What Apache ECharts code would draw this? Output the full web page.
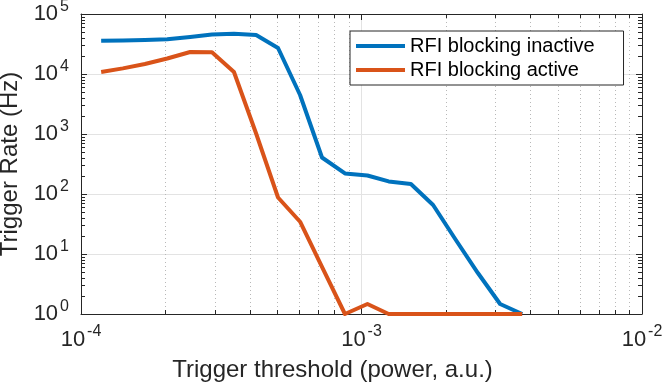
<!DOCTYPE html>
<html>
<head>
<meta charset="utf-8">
<script src="https://cdn.jsdelivr.net/npm/echarts@6/dist/echarts.min.js"></script>
<style>
  html, body { margin: 0; padding: 0; background: #fff; }
  #chart { width: 664px; height: 386px; }
</style>
</head>
<body>
<div id="chart"></div>
<script>
// values
const thresholds = [1.18e-4, 1.41e-4, 1.69e-4, 2.03e-4, 2.45e-4, 2.93e-4, 3.51e-4, 4.21e-4, 5.04e-4, 6.04e-4,
  7.23e-4, 8.73e-4, 1.05e-3, 1.25e-3, 1.50e-3, 1.80e-3, 2.17e-3, 2.60e-3, 3.12e-3, 3.74e-3]
const rateInactive = [35900, 36300, 36900, 38000, 41400, 45500, 47000, 44700, 27100, 4470,
  406, 220, 203, 162, 147, 65.6, 17.1, 4.82, 1.47, 1]
const rateActive = [10800, 12400, 14700, 18100, 23300, 23000, 10800, 1020, 87.5, 34.5,
  6.1, 1, 1.47, 1, 1, 1, 1, 1, 1, 1]
const seriesNames = ['RFI blocking inactive', 'RFI blocking active']

// minor ticks at 2..9 of each decade
const xDecades = [1e-4, 1e-3]
const yDecades = [1, 10, 100, 1000, 10000]
const xMinor = []
const yMinor = []
xDecades.forEach(d => { for (let m = 2; m <= 9; m++) xMinor.push(m * d) })
yDecades.forEach(d => { for (let m = 2; m <= 9; m++) yMinor.push(m * d) })

const ink = '#262626'
const font = 'Liberation Sans, Arial, Helvetica, sans-serif'

const powLabel = v => '{b|10}{s|' + Math.round(Math.log10(v)) + '}'
const richLabel = {
  b: { fontSize: 22, lineHeight: 31, color: ink, fontFamily: font },
  s: { fontSize: 16, lineHeight: 16, color: ink, fontFamily: font, verticalAlign: 'top', padding: [0, 0, 0, 2] }
}

const chart = echarts.init(document.getElementById('chart'))

const mirrorX = {
  type: 'log', logBase: 10, min: 1e-4, max: 1e-2, position: 'top',
  axisLine: { show: true, lineStyle: { color: ink, width: 1 } },
  axisTick: { show: true, inside: true, length: 6, lineStyle: { color: ink } },
  axisLabel: { show: false }, splitLine: { show: false }
}
const mirrorY = {
  type: 'log', logBase: 10, min: 1, max: 1e5, position: 'right',
  axisLine: { show: true, lineStyle: { color: ink, width: 1 } },
  axisTick: { show: true, inside: true, length: 6, lineStyle: { color: ink } },
  axisLabel: { show: false }, splitLine: { show: false }
}

chart.setOption({
  animation: false,
  backgroundColor: '#fff',
  grid: { left: 81, right: 22, top: 14, bottom: 72, containLabel: false, outerBoundsMode: 'none' },
  legend: {
    orient: 'vertical',
    left: 350, top: 31,
    padding: [4, 29, 4, 6],
    itemGap: 2,
    itemWidth: 49, itemHeight: 4,
    itemTextGap: 5,
    icon: 'rect',
    borderColor: ink, borderWidth: 1, borderRadius: 0,
    backgroundColor: '#fff',
    textStyle: { fontSize: 20, lineHeight: 22, color: '#000', fontFamily: font },
    data: seriesNames
  },
  xAxis: [{
    type: 'log', logBase: 10, min: 1e-4, max: 1e-2,
    name: 'Trigger threshold (power, a.u.)',
    nameLocation: 'middle', nameGap: 44,
    nameTextStyle: { fontSize: 24, color: ink, fontFamily: font, padding: [0, 58, 0, 0] },
    axisLine: { show: true, lineStyle: { color: ink, width: 1 } },
    axisTick: { show: true, inside: true, length: 6, lineStyle: { color: ink } },
    axisLabel: { margin: 10, formatter: powLabel, rich: richLabel },
    splitLine: { show: true, lineStyle: { color: '#e3e3e3', width: 1 } }
  }, mirrorX],
  yAxis: [{
    type: 'log', logBase: 10, min: 1, max: 1e5,
    name: 'Trigger Rate (Hz)',
    nameLocation: 'middle', nameGap: 57, nameRotate: 90,
    nameTextStyle: { fontSize: 24, color: ink, fontFamily: font },
    axisLine: { show: true, lineStyle: { color: ink, width: 1 } },
    axisTick: { show: true, inside: true, length: 6, lineStyle: { color: ink } },
    axisLabel: { margin: 12, formatter: powLabel, rich: richLabel },
    splitLine: { show: true, lineStyle: { color: '#e3e3e3', width: 1 } }
  }, mirrorY],
  series: [
    {
      // x minor grid (dotted) and minor ticks on bottom/top
      type: 'custom', silent: true, z: 1,
      data: xMinor.map(v => [v, 1]),
      renderItem: (params, api) => {
        const cs = params.coordSys
        const x = Math.round(api.coord([api.value(0), 1])[0]) + 0.5
        const y0 = cs.y, y1 = cs.y + cs.height
        return {
          type: 'group',
          children: [
            { type: 'line', shape: { x1: x, y1: y0, x2: x, y2: y1 }, style: { stroke: '#b8b8b8', lineWidth: 1, lineDash: [1, 3] } },
            { type: 'line', shape: { x1: x, y1: y1, x2: x, y2: y1 - 4 }, style: { stroke: ink, lineWidth: 1 } },
            { type: 'line', shape: { x1: x, y1: y0, x2: x, y2: y0 + 4 }, style: { stroke: ink, lineWidth: 1 } }
          ]
        }
      }
    },
    {
      // y minor ticks on left/right
      type: 'custom', silent: true, z: 1,
      data: yMinor.map(v => [1e-4, v]),
      renderItem: (params, api) => {
        const cs = params.coordSys
        const y = Math.round(api.coord([1e-4, api.value(1)])[1]) + 0.5
        const x0 = cs.x, x1 = cs.x + cs.width
        return {
          type: 'group',
          children: [
            { type: 'line', shape: { x1: x0, y1: y, x2: x0 + 4, y2: y }, style: { stroke: ink, lineWidth: 1 } },
            { type: 'line', shape: { x1: x1, y1: y, x2: x1 - 4, y2: y }, style: { stroke: ink, lineWidth: 1 } }
          ]
        }
      }
    },
    {
      name: seriesNames[0], type: 'line', z: 3,
      data: thresholds.map((x, i) => [x, rateInactive[i]]),
      showSymbol: false, symbol: 'none', clip: false,
      lineStyle: { color: '#0072BD', width: 4, join: 'round' },
      itemStyle: { color: '#0072BD' }
    },
    {
      name: seriesNames[1], type: 'line', z: 4,
      data: thresholds.map((x, i) => [x, rateActive[i]]),
      showSymbol: false, symbol: 'none', clip: false,
      lineStyle: { color: '#D95319', width: 4, join: 'round' },
      itemStyle: { color: '#D95319' }
    }
  ]
})
</script>
</body>
</html>
